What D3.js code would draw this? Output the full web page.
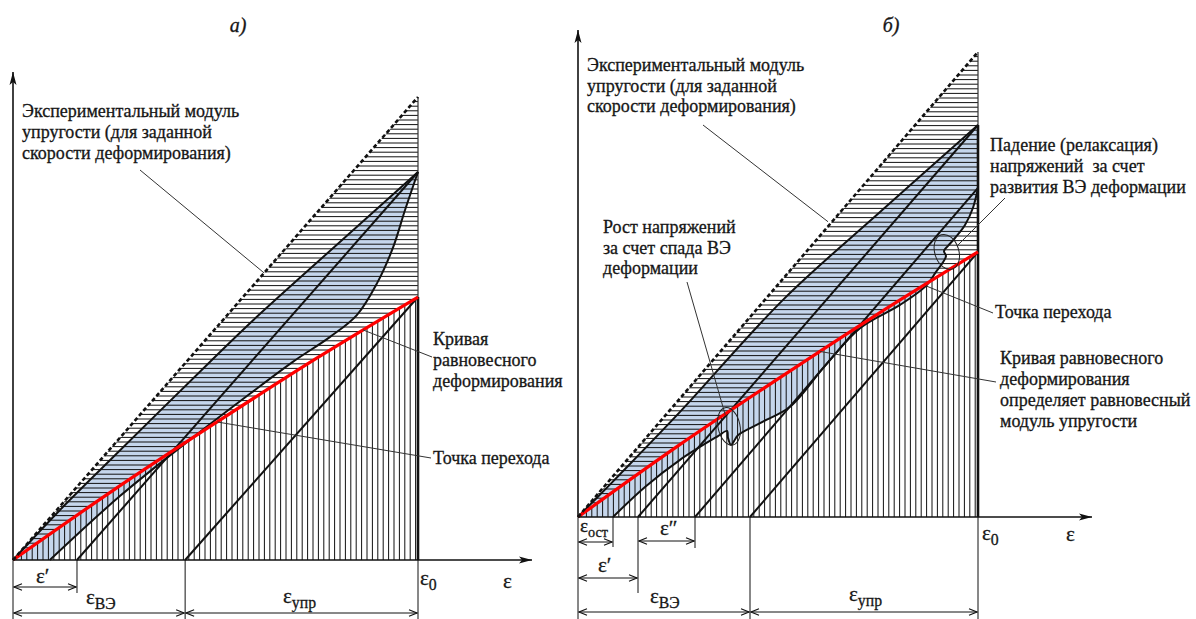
<!DOCTYPE html>
<html>
<head>
<meta charset="utf-8">
<script src="https://cdn.jsdelivr.net/npm/d3@7"></script>
<style>
  body { margin: 0; background: #fff; }
  text { font-family: "Liberation Serif", "Times New Roman", serif; fill: #161616;
         stroke: #161616; stroke-width: 0.3; }
</style>
</head>
<body>
<svg id="chart" width="1196" height="619"></svg>
<script>
// values are strain / eps0 and stress / (stress at eps0 on the modulus line)

// panel a)
const equilibriumA = [[0, 0], [0.25, 0.152], [0.5, 0.296], [0.75, 0.436], [1, 0.568]];
const loadingA = [[0, 0], [0.116, 0.108], [0.24, 0.216], [0.491, 0.432], [0.593, 0.518], [0.783, 0.668], [1, 0.838]];
const unloadingA = [[1, 0.838], [0.968, 0.756], [0.938, 0.674], [0.899, 0.598], [0.849, 0.529], [0.783, 0.482],
  [0.691, 0.428], [0.585, 0.359], [0.449, 0.268], [0.264, 0.138], [0.091, 0]];
const elasticA = [[[1, 0.838], [0.158, 0]], [[1, 0.568], [0.425, 0]]];
const strainMarksA = [0.158, 0.425];

// panel b)
const equilibriumB = [[0, 0], [0.25, 0.153], [0.5, 0.297], [0.75, 0.437], [1, 0.57]];
const loadingB = [[0, 0], [0.105, 0.092], [0.255, 0.226], [0.5125, 0.467], [0.755, 0.656], [1, 0.843]];
const unloadingB = [[1, 0.708], [0.9875, 0.665], [0.9675, 0.628], [0.9425, 0.6], [0.925, 0.583], [0.915, 0.572],
  [0.92, 0.561], [0.9125, 0.548], [0.895, 0.527], [0.87, 0.497], [0.805, 0.456], [0.705, 0.406], [0.6175, 0.325],
  [0.53, 0.237], [0.455, 0.202], [0.4, 0.176], [0.39, 0.163], [0.3825, 0.155], [0.375, 0.17], [0.3725, 0.185],
  [0.35, 0.174], [0.255, 0.123], [0.1675, 0.0645], [0.0875, 0]];
const elasticB = [[[1, 0.843], [0.15, 0]], [[1, 0.708], [0.2925, 0]], [[1, 0.57], [0.43, 0]]];
const strainMarksB = [0.0875, 0.15, 0.2925, 0.43];

const svg = d3.select("#chart");
const defs = svg.append("defs");

defs.append("marker").attr("id", "axisHead")
  .attr("viewBox", "-13 -5 14 10").attr("refX", 0).attr("refY", 0)
  .attr("markerWidth", 14).attr("markerHeight", 10)
  .attr("markerUnits", "userSpaceOnUse").attr("orient", "auto")
  .append("path").attr("d", "M-13,-3.5L0,0L-13,3.5L-10,0Z").attr("fill", "#111");

defs.append("marker").attr("id", "dimHead")
  .attr("viewBox", "-10 -5 11 10").attr("refX", 0).attr("refY", 0)
  .attr("markerWidth", 11).attr("markerHeight", 10)
  .attr("markerUnits", "userSpaceOnUse").attr("orient", "auto-start-reverse")
  .append("path").attr("d", "M-8,-3.3L0,0L-8,3.3")
  .attr("fill", "none").attr("stroke", "#111").attr("stroke-width", 1.1);

function multiline(g, lines, x0, y0, dy) {
  const t = g.append("text").attr("x", x0).attr("y", y0).attr("font-size", 18).style("white-space", "pre");
  lines.forEach((s, i) => t.append("tspan").attr("x", x0).attr("y", y0 + i * dy).text(s));
}

function epsLabel(g, x0, y0, sub, mark, size) {
  const t = g.append("text").attr("x", x0).attr("y", y0).attr("font-size", size || 21);
  t.append("tspan").text("ε" + (mark || ""));
  if (sub) t.append("tspan").attr("dy", 5).attr("font-size", (size || 21) * 0.75).text(sub);
}

function panel(p) {
  const x = d3.scaleLinear().domain([0, 1]).range(p.xRange);
  const y = d3.scaleLinear().domain([0, 1]).range(p.yRange);
  const g = svg.append("g");
  const smooth = d3.line().x(d => x(d[0])).y(d => y(d[1])).curve(d3.curveCatmullRom.alpha(0.5));
  const straight = d3.line().x(d => x(d[0])).y(d => y(d[1]));
  const eqEnd = p.equilibrium[p.equilibrium.length - 1];

  const upperPath = straight([[0, 0], [1, 1], eqEnd]) + "L" + smooth(p.equilibrium.slice().reverse()).slice(1) + "Z";
  const lowerPath = smooth(p.equilibrium) + "L" + straight([[1, 0], [0, 0]]).slice(1) + "Z";
  const loopPath = smooth(p.loading) + "L" + smooth(p.unloading).slice(1) + "Z";

  defs.append("clipPath").attr("id", p.id + "up").append("path").attr("d", upperPath);
  defs.append("clipPath").attr("id", p.id + "lo").append("path").attr("d", lowerPath);

  // hysteresis loop fill
  g.append("path").attr("d", loopPath).attr("fill", "#c5d6ec");

  // hatching
  const hUp = g.append("g").attr("clip-path", `url(#${p.id}up)`);
  hUp.selectAll("line").data(d3.range(y(1), y(0), 4.6)).join("line")
    .attr("x1", x(0)).attr("x2", x(1)).attr("y1", d => d).attr("y2", d => d)
    .attr("stroke", "#111").attr("stroke-width", 1);
  const hLo = g.append("g").attr("clip-path", `url(#${p.id}lo)`);
  hLo.selectAll("line").data(d3.range(x(0) + 3, x(1), 5.4)).join("line")
    .attr("x1", d => d).attr("x2", d => d).attr("y1", y(1)).attr("y2", y(0))
    .attr("stroke", "#111").attr("stroke-width", 1);

  // right boundary at eps0
  g.append("line").attr("x1", x(1)).attr("x2", x(1)).attr("y1", y(1)).attr("y2", y(p.thickFrom))
    .attr("stroke", "#333").attr("stroke-width", 1.2);
  g.append("line").attr("x1", x(1)).attr("x2", x(1)).attr("y1", y(p.thickFrom)).attr("y2", y(0))
    .attr("stroke", "#111").attr("stroke-width", 2.6);

  // curves
  g.append("path").attr("d", smooth(p.loading)).attr("fill", "none").attr("stroke", "#111").attr("stroke-width", 2);
  g.append("path").attr("d", smooth(p.unloading)).attr("fill", "none").attr("stroke", "#111").attr("stroke-width", 2);
  g.selectAll(".el").data(p.elastic).join("path").attr("class", "el")
    .attr("d", straight).attr("fill", "none").attr("stroke", "#111").attr("stroke-width", 2);
  g.append("path").attr("d", smooth(p.equilibrium)).attr("fill", "none").attr("stroke", "#ff0000").attr("stroke-width", 3.2);
  g.append("path").attr("d", straight([[0, 0], [1, 1]])).attr("fill", "none")
    .attr("stroke", "#111").attr("stroke-width", 2.6).attr("stroke-dasharray", "4,2.6");

  // axes
  g.append("line").attr("x1", x(0)).attr("y1", y(0)).attr("x2", x(0)).attr("y2", p.yAxisTop)
    .attr("stroke", "#111").attr("stroke-width", 1.6).attr("marker-end", "url(#axisHead)");
  g.append("line").attr("x1", x(0)).attr("y1", y(0)).attr("x2", p.xAxisEnd).attr("y2", y(0))
    .attr("stroke", "#111").attr("stroke-width", 1.6).attr("marker-end", "url(#axisHead)");

  // extension lines and dimension arrows
  g.selectAll(".ext").data(p.extensions).join("line").attr("class", "ext")
    .attr("x1", d => x(d[0])).attr("x2", d => x(d[0])).attr("y1", y(0)).attr("y2", d => d[1])
    .attr("stroke", "#111").attr("stroke-width", 1);
  g.selectAll(".dim").data(p.dims).join("line").attr("class", "dim")
    .attr("x1", d => x(d[0]) + 1).attr("x2", d => x(d[1]) - 1).attr("y1", d => d[2]).attr("y2", d => d[2])
    .attr("stroke", "#111").attr("stroke-width", 1)
    .attr("marker-start", "url(#dimHead)").attr("marker-end", "url(#dimHead)");

  // leaders
  g.selectAll(".lead").data(p.leaders).join("line").attr("class", "lead")
    .attr("x1", d => d[0]).attr("y1", d => d[1]).attr("x2", d => x(d[2])).attr("y2", d => y(d[3]))
    .attr("stroke", "#333").attr("stroke-width", 1);
  g.selectAll(".ell").data(p.ellipses).join("ellipse").attr("class", "ell")
    .attr("transform", d => `translate(${x(d[0])},${y(d[1])}) rotate(${d[4]})`)
    .attr("rx", d => d[2]).attr("ry", d => d[3])
    .attr("fill", "none").attr("stroke", "#222").attr("stroke-width", 1);

  return {g, x, y};
}

// ---- panel a
const A = panel({
  id: "pa", xRange: [13, 418], yRange: [560, 97], yAxisTop: 72, xAxisEnd: 532,
  equilibrium: equilibriumA, loading: loadingA, unloading: unloadingA, elastic: elasticA,
  thickFrom: 0.568,
  extensions: [[0, 619], [strainMarksA[0], 593], [strainMarksA[1], 619], [1, 619]],
  dims: [[0, strainMarksA[0], 587], [0, strainMarksA[1], 613], [strainMarksA[1], 1, 613]],
  leaders: [[140, 170, 0.62, 0.62], [432, 357, 0.864, 0.497], [431, 458, 0.505, 0.298]],
  ellipses: []
});
multiline(A.g, ["Экспериментальный модуль", "упругости (для заданной", "скорости деформирования)"], 22, 117, 21);
multiline(A.g, ["Кривая", "равновесного", "деформирования"], 433, 345, 21);
multiline(A.g, ["Точка перехода"], 433, 464, 21);
A.g.append("text").attr("x", 238).attr("y", 32).attr("font-size", 20).attr("font-style", "italic")
  .attr("text-anchor", "middle").text("а)");
epsLabel(A.g, 503, 588);
epsLabel(A.g, 420, 585, "0");
epsLabel(A.g, 36, 583, null, "′");
epsLabel(A.g, 86, 604, "ВЭ");
epsLabel(A.g, 283, 603, "упр");

// ---- panel b
const B = panel({
  id: "pb", xRange: [578, 978], yRange: [517, 52], yAxisTop: 30, xAxisEnd: 1092,
  equilibrium: equilibriumB, loading: loadingB, unloading: unloadingB, elastic: elasticB,
  thickFrom: 0.843,
  extensions: [[0, 619], [strainMarksB[0], 547], [strainMarksB[1], 593], [strainMarksB[2], 548],
    [strainMarksB[3], 619], [1, 619]],
  dims: [[0, strainMarksB[0], 542], [strainMarksB[1], strainMarksB[2], 541], [0, strainMarksB[1], 578],
    [0, strainMarksB[3], 612], [strainMarksB[3], 1, 612]],
  leaders: [[703, 125, 0.625, 0.635], [687, 282, 0.368, 0.22], [1005, 198, 0.95, 0.585],
    [993, 313, 0.87, 0.497], [996, 382, 0.605, 0.356]],
  ellipses: [[0.922, 0.57, 12, 18, -18], [0.3775, 0.195, 11, 19, -12]]
});
multiline(B.g, ["Экспериментальный модуль", "упругости (для заданной", "скорости деформирования)"], 587, 71, 20.5);
multiline(B.g, ["Рост напряжений", "за счет спада ВЭ", "деформации"], 603, 233, 20.5);
multiline(B.g, ["Падение (релаксация)", "напряжений  за счет", "развития ВЭ деформации"], 990, 151, 21);
multiline(B.g, ["Точка перехода"], 995, 318, 21);
multiline(B.g, ["Кривая равновесного", "деформирования", "определяет равновесный", "модуль упругости"], 1000, 364, 21);
B.g.append("text").attr("x", 891).attr("y", 32).attr("font-size", 20).attr("font-style", "italic")
  .attr("text-anchor", "middle").text("б)");
epsLabel(B.g, 1066, 541);
epsLabel(B.g, 982, 540, "0");
epsLabel(B.g, 580, 532, "ост", null, 19);
epsLabel(B.g, 660, 535, null, "″");
epsLabel(B.g, 598, 572, null, "′");
epsLabel(B.g, 650, 603, "ВЭ");
epsLabel(B.g, 849, 601, "упр");
</script>
</body>
</html>
